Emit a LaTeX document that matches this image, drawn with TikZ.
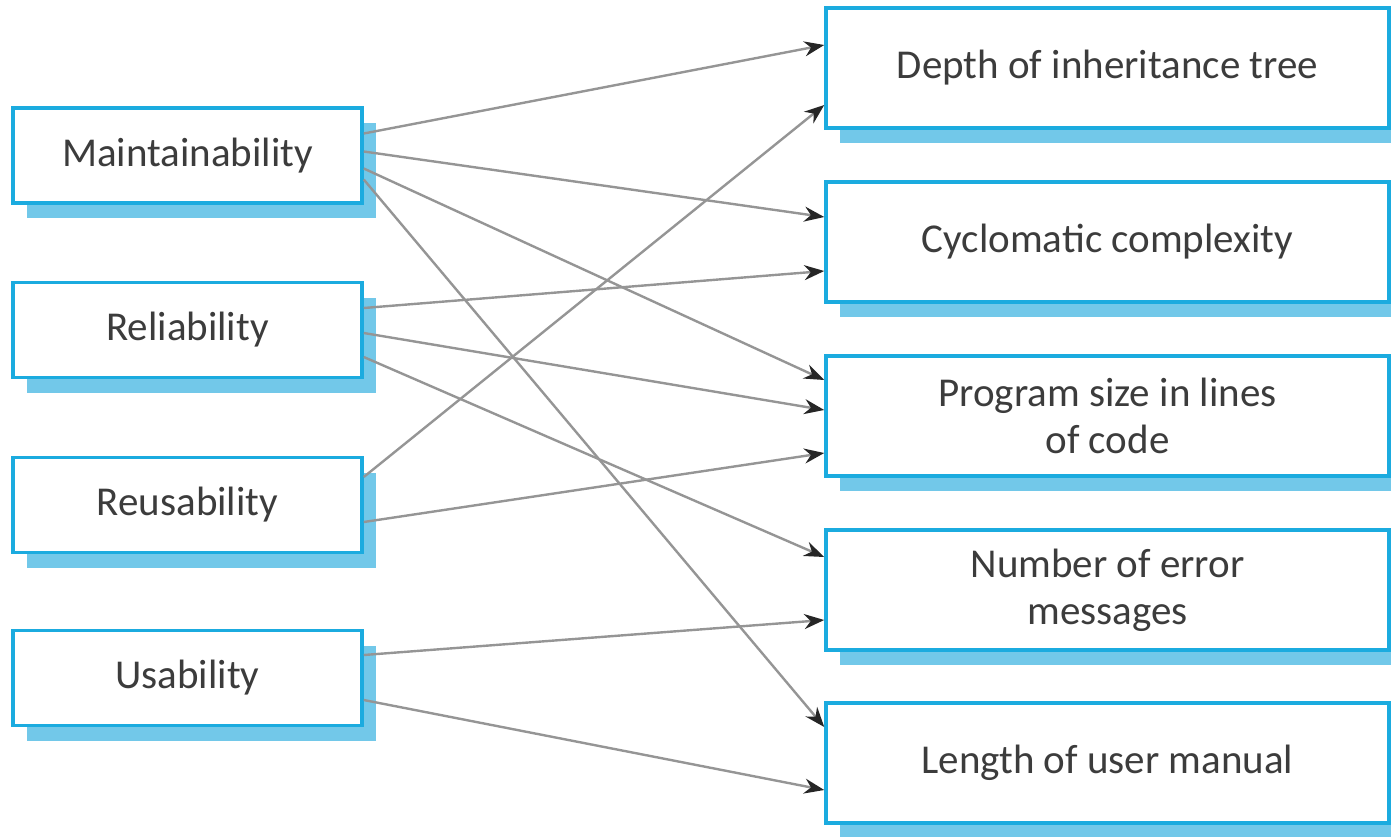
\documentclass[tikz,border=0pt]{standalone}
\usepackage{fontspec}
\setmainfont{Carlito}
\usetikzlibrary{arrows.meta,shadows}
\definecolor{boxblue}{HTML}{1BABDF}
\definecolor{shadowblue}{HTML}{72C8E9}
\definecolor{linegray}{HTML}{959595}
\definecolor{tipgray}{HTML}{262626}
\definecolor{txtgray}{HTML}{3C3C3C}
\tikzset{
  qbox/.style={draw=boxblue, line width=3.5pt, fill=white, rectangle,
    general shadow={fill=shadowblue, shadow xshift=14pt, shadow yshift=-15pt},
    text=txtgray, align=center, inner sep=0pt,
    font=\fontsize{41}{47}\selectfont},
  leftbox/.style={qbox, minimum width=349pt, minimum height=95pt},
  rightbox/.style={qbox, minimum width=563pt, minimum height=120pt},
  link/.style={draw=linegray, line width=2.4pt,
    -{Stealth[length=20pt,width=15pt,color=tipgray]}}
}
\begin{document}
\begin{tikzpicture}[x=1pt,y=-1pt]
\useasboundingbox (0,0) rectangle (1391,836);
% left boxes
\node[leftbox] (m) at (187.5,155.5) {Maintainability};
\node[leftbox] (r) at (187.5,330) {Reliability};
\node[leftbox] (re) at (187.5,505) {Reusability};
\node[leftbox] (u) at (187.5,678) {Usability};
% right boxes
\node[rightbox] (d) at (1107.5,68) {Depth of inheritance tree};
\node[rightbox] (c) at (1107.5,242) {Cyclomatic complexity};
\node[rightbox] (p) at (1107.5,416) {Program size in lines\\of code};
\node[rightbox] (n) at (1107.5,590) {Number of error\\messages};
\node[rightbox] (l) at (1107.5,763) {Length of user manual};
% connectors
\draw[link] ([yshift=22pt]m.east) -- ([yshift=23pt]d.west);
\draw[link] ([yshift=4pt]m.east) -- ([yshift=25pt]c.west);
\draw[link] ([yshift=-13pt]m.east) -- ([yshift=36pt]p.west);
\draw[link] ([yshift=-24pt]m.east) -- ([yshift=36pt]l.west);
\draw[link] ([yshift=22pt]r.east) -- ([yshift=-29pt]c.west);
\draw[link] ([yshift=-3pt]r.east) -- ([yshift=6pt]p.west);
\draw[link] ([yshift=-27pt]r.east) -- ([yshift=33pt]n.west);
\draw[link] ([yshift=28pt]re.east) -- ([yshift=-37pt]d.west);
\draw[link] ([yshift=-17pt]re.east) -- ([yshift=-37pt]p.west);
\draw[link] ([yshift=23pt]u.east) -- ([yshift=-30pt]n.west);
\draw[link] ([yshift=-22pt]u.east) -- ([yshift=-27pt]l.west);
\end{tikzpicture}
\end{document}
